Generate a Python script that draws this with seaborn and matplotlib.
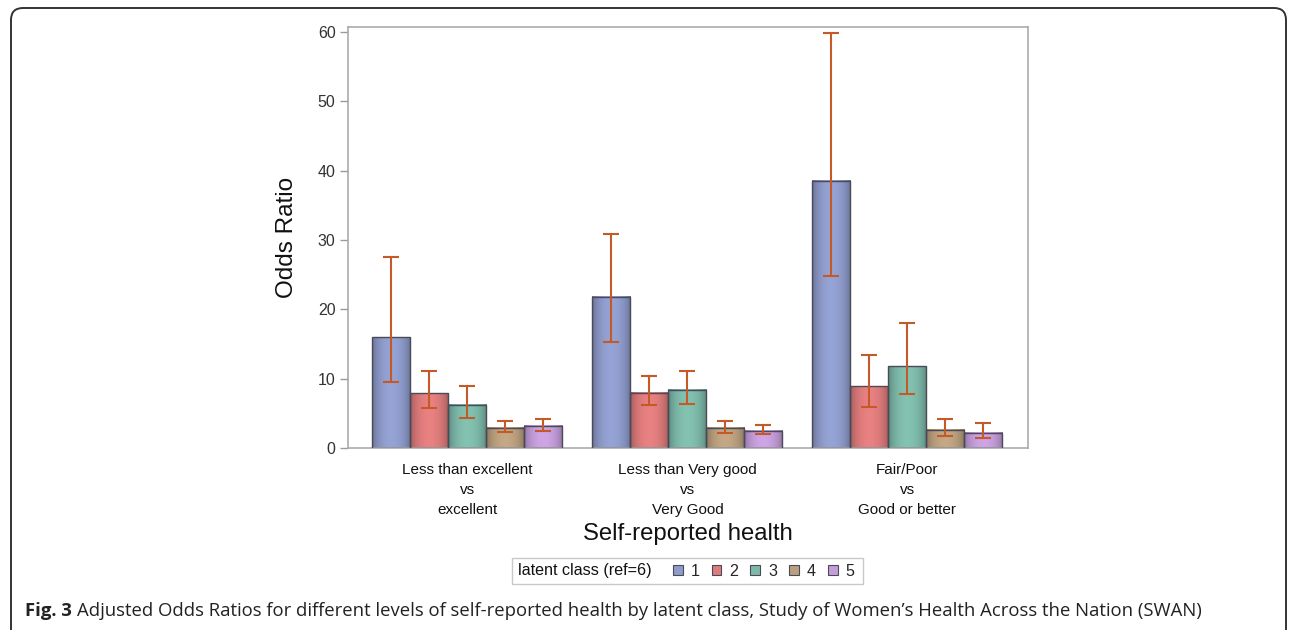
# coding:utf-8
# Adjusted odds ratios by latent class, SWAN
# grouped bars with CI whiskers

import numpy as np
import pandas as pd
import matplotlib.pyplot as plt
import seaborn as sns
from matplotlib.patches import Rectangle, FancyBboxPatch
from matplotlib.colors import to_rgb

sns.set_theme(style="white")
plt.rcParams['font.family'] = ['Liberation Sans', 'DejaVu Sans']

# 数据
categories = ["Less than excellent\nvs\nexcellent",
              "Less than Very good\nvs\nVery Good",
              "Fair/Poor\nvs\nGood or better"]
classes = ["1", "2", "3", "4", "5"]

odds_1 = [16.0, 21.8, 38.5]
lower_1 = [9.5, 15.3, 24.8]
upper_1 = [27.5, 30.9, 59.9]

odds_2 = [7.9, 8.0, 8.9]
lower_2 = [5.8, 6.2, 5.9]
upper_2 = [11.1, 10.4, 13.4]

odds_3 = [6.2, 8.4, 11.8]
lower_3 = [4.3, 6.3, 7.8]
upper_3 = [8.9, 11.1, 18.0]

odds_4 = [2.9, 2.9, 2.6]
lower_4 = [2.3, 2.2, 1.7]
upper_4 = [3.9, 3.9, 4.2]

odds_5 = [3.2, 2.5, 2.2]
lower_5 = [2.5, 2.0, 1.4]
upper_5 = [4.2, 3.3, 3.6]

yticks = [0, 10, 20, 30, 40, 50, 60]

colors = ["#8E9BCB", "#DE7B7B", "#7DB9A9", "#BBA07E", "#C59DDB"]
ci_color = "#C45A28"


def build_df():
    rows = []
    series = [(odds_1, lower_1, upper_1), (odds_2, lower_2, upper_2),
              (odds_3, lower_3, upper_3), (odds_4, lower_4, upper_4),
              (odds_5, lower_5, upper_5)]
    for cls, (o, lo, hi) in zip(classes, series):
        for cat, v, l, h in zip(categories, o, lo, hi):
            rows.append({"category": cat, "cls": cls, "odds": v, "lower": l, "upper": h})
    return pd.DataFrame(rows)


# 给柱子加上左右渐变
def shade_bars(ax):
    t = np.linspace(0, 1, 60)
    factor = 0.70 + 0.35 * np.sin(np.pi * t) ** 0.6
    for cont, col in zip(ax.containers, colors):
        base = np.array(to_rgb(col))
        grad = np.clip(base[None, :] * factor[:, None], 0, 1)[None, :, :]
        for bar in cont:
            x0, w, h = bar.get_x(), bar.get_width(), bar.get_height()
            ax.imshow(grad, extent=[x0, x0 + w, 0, h], aspect='auto',
                      interpolation='bilinear', zorder=2)
            bar.set_facecolor('none')
            bar.set_zorder(3)


df = build_df()

fig = plt.figure(figsize=(12.9, 6.3), dpi=100)
ax = fig.add_axes([348 / 1290, 1 - 448 / 630, 680 / 1290, 421 / 630])

sns.barplot(data=df, x="category", y="odds", hue="cls", order=categories,
            hue_order=classes, palette=colors, saturation=1, width=0.864,
            errorbar=None, edgecolor="#4A4A58", linewidth=1.0, legend=False, ax=ax)

shade_bars(ax)

# 置信区间
for cont, cls in zip(ax.containers, classes):
    sub = df[df["cls"] == cls].set_index("category").loc[categories]
    xs = [b.get_x() + b.get_width() / 2 for b in cont]
    yerr = [sub["odds"] - sub["lower"], sub["upper"] - sub["odds"]]
    ax.errorbar(xs, sub["odds"], yerr=yerr, fmt='none', ecolor=ci_color,
                elinewidth=1.5, capsize=5.5, capthick=1.5, zorder=5)

ax.set_xlim(-0.543, 2.548)
ax.set_ylim(0, 60.7)
ax.set_yticks(yticks)
ax.set_xticks(range(len(categories)), labels=categories, linespacing=1.55)
ax.tick_params(axis='y', length=6, width=1, color='#9A9A9A', pad=3,
               labelsize=11.5, labelcolor='#333333', left=True)
ax.tick_params(axis='x', length=0, pad=11, labelsize=11, labelcolor='#111111')
for s in ax.spines.values():
    s.set_color('#ABABAB')
    s.set_linewidth(1.2)

ax.set_ylabel("Odds Ratio", fontsize=17.5, color='#111111')
ax.yaxis.set_label_coords(-0.073, 0.5)
ax.set_xlabel("Self-reported health", fontsize=17.2, color='#111111')
ax.xaxis.set_label_coords(0.5, -0.178)

# 图例
fig.text(518 / 1290, 1 - 571 / 630, "latent class (ref=6)", fontsize=11.6,
         color='#111111', ha='left', va='center')
handles = [Rectangle((0, 0), 1, 1, facecolor=c, edgecolor='#4A4A58', lw=0.8) for c in colors]
fig.legend(handles, classes, loc='center left', bbox_to_anchor=(668 / 1290, 1 - 571 / 630),
           ncol=5, frameon=False, fontsize=11.6, handlelength=0.6, handleheight=0.6,
           handletextpad=0.5, columnspacing=0.75, borderpad=0.3, borderaxespad=0)
fig.patches.append(Rectangle((512 / 1290, 1 - 584 / 630), 351 / 1290, 26 / 630,
                             transform=fig.transFigure, facecolor='none',
                             edgecolor='#C8C8C8', lw=1.0))

# 外框
fig.patches.append(FancyBboxPatch((0.11, -0.3), 12.75, 6.22 + 0.3,
                                  boxstyle="round,pad=0,rounding_size=0.12",
                                  transform=fig.dpi_scale_trans, facecolor='none',
                                  edgecolor='#333333', lw=1.4))

# 图注
cap_y = 1 - 616 / 630
t1 = fig.text(25 / 1290, cap_y, "Fig. 3", fontsize=13.3, fontweight='bold',
              family=['Open Sans', 'DejaVu Sans'], color='#222222', va='baseline')
r = fig.canvas.get_renderer()
bb = t1.get_window_extent(renderer=r)
fig.text((bb.x1 + 5) / 1290, cap_y,
         "Adjusted Odds Ratios for different levels of self-reported health by latent class, "
         "Study of Women\u2019s Health Across the Nation (SWAN)",
         fontsize=13.3, family=['Open Sans', 'DejaVu Sans'], color='#222222', va='baseline')

plt.savefig("out.png", dpi=100)
